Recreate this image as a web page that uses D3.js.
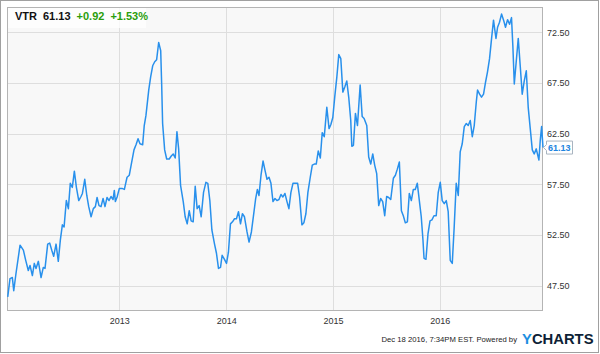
<!DOCTYPE html>
<html lang="en">
	<head>
		<meta charset="utf-8">
		<title>VTR price chart</title>
		<script src="https://d3js.org/d3.v7.min.js"></script>
		<style type="text/css">
			body { margin: 0; background: #fff; }
			svg { display: block; font-family: Arial, "Liberation Sans", sans-serif; }
		</style>
	</head>
	<body>
		<script type="text/javascript">
		var years = [
			2011.958, 2011.979, 2012.001, 2012.014, 2012.035, 2012.073, 2012.104, 2012.126, 2012.150, 2012.166,
			2012.188, 2012.206, 2012.222, 2012.244, 2012.269, 2012.290, 2012.306, 2012.331, 2012.350, 2012.369,
			2012.387, 2012.409, 2012.430, 2012.449, 2012.468, 2012.484, 2012.505, 2012.524, 2012.542, 2012.561,
			2012.580, 2012.599, 2012.621, 2012.642, 2012.655, 2012.677, 2012.696, 2012.714, 2012.736, 2012.757,
			2012.776, 2012.792, 2012.810, 2012.829, 2012.848, 2012.866, 2012.885, 2012.904, 2012.922, 2012.941,
			2012.953, 2012.963, 2012.979, 2013.000, 2013.025, 2013.047, 2013.072, 2013.093, 2013.112, 2013.137,
			2013.156, 2013.175, 2013.193, 2013.218, 2013.233, 2013.249, 2013.275, 2013.293, 2013.312, 2013.331,
			2013.349, 2013.368, 2013.387, 2013.396, 2013.405, 2013.424, 2013.443, 2013.467, 2013.486, 2013.504,
			2013.523, 2013.539, 2013.555, 2013.573, 2013.598, 2013.616, 2013.635, 2013.654, 2013.672, 2013.691,
			2013.710, 2013.728, 2013.747, 2013.766, 2013.788, 2013.810, 2013.828, 2013.847, 2013.866, 2013.891,
			2013.909, 2013.928, 2013.947, 2013.962, 2013.984, 2014.003, 2014.021, 2014.040, 2014.059, 2014.078,
			2014.096, 2014.115, 2014.134, 2014.152, 2014.171, 2014.195, 2014.214, 2014.236, 2014.258, 2014.276,
			2014.292, 2014.307, 2014.326, 2014.345, 2014.363, 2014.382, 2014.401, 2014.419, 2014.438, 2014.457,
			2014.475, 2014.494, 2014.513, 2014.531, 2014.550, 2014.569, 2014.587, 2014.606, 2014.625, 2014.650,
			2014.669, 2014.687, 2014.709, 2014.727, 2014.746, 2014.765, 2014.787, 2014.806, 2014.825, 2014.843,
			2014.862, 2014.881, 2014.899, 2014.918, 2014.942, 2014.963, 2014.980, 2014.998, 2015.017, 2015.036,
			2015.054, 2015.073, 2015.092, 2015.110, 2015.129, 2015.148, 2015.166, 2015.176, 2015.191, 2015.210,
			2015.229, 2015.254, 2015.273, 2015.291, 2015.316, 2015.334, 2015.353, 2015.372, 2015.390, 2015.409,
			2015.428, 2015.446, 2015.465, 2015.484, 2015.502, 2015.521, 2015.540, 2015.565, 2015.584, 2015.602,
			2015.621, 2015.640, 2015.658, 2015.677, 2015.696, 2015.714, 2015.733, 2015.752, 2015.770, 2015.789,
			2015.808, 2015.826, 2015.842, 2015.852, 2015.870, 2015.889, 2015.908, 2015.926, 2015.945, 2015.966,
			2015.985, 2016.004, 2016.022, 2016.041, 2016.060, 2016.078, 2016.097, 2016.116, 2016.134, 2016.153,
			2016.172, 2016.190, 2016.209, 2016.228, 2016.247, 2016.265, 2016.284, 2016.303, 2016.321, 2016.340,
			2016.352, 2016.371, 2016.389, 2016.408, 2016.427, 2016.445, 2016.464, 2016.483, 2016.501, 2016.524,
			2016.539, 2016.557, 2016.576, 2016.595, 2016.613, 2016.632, 2016.651, 2016.669, 2016.682, 2016.695,
			2016.713, 2016.732, 2016.751, 2016.769, 2016.788, 2016.807, 2016.825, 2016.844, 2016.863, 2016.881,
			2016.900, 2016.925, 2016.937, 2016.950, 2016.963
		];
		var prices = [
			46.4, 48.2, 48.3, 47.0, 48.7, 51.5, 51.0, 50.0, 49.0, 49.5,
			48.5, 49.7, 49.2, 49.9, 48.3, 49.3, 49.2, 51.6, 51.7, 51.0,
			50.4, 51.6, 49.9, 52.0, 53.5, 53.3, 55.9, 55.1, 57.6, 57.2,
			58.8, 57.2, 55.9, 56.3, 56.6, 58.0, 56.4, 55.3, 54.3, 55.1,
			55.3, 56.2, 55.4, 55.3, 56.1, 55.3, 56.2, 55.9, 56.3, 56.0,
			56.9, 55.8, 56.25, 57.1, 57.1, 57.0, 58.2, 58.4, 59.5, 60.9,
			61.4, 62.0, 61.5, 61.4, 63.3, 64.3, 66.8, 68.1, 69.2, 69.6,
			69.8, 71.5, 70.7, 67.4, 63.5, 60.9, 60.0, 60.0, 60.3, 60.5,
			60.1, 62.7, 61.0, 57.4, 55.8, 54.3, 53.6, 54.9, 53.9, 53.8,
			57.3, 55.1, 55.4, 54.3, 56.7, 57.7, 57.6, 55.9, 53.0, 51.6,
			50.7, 49.2, 49.3, 50.5, 50.1, 49.7, 50.8, 53.6, 53.8, 54.1,
			54.1, 54.8, 53.6, 54.6, 54.3, 52.8, 51.8, 52.8, 54.6, 56.1,
			57.0, 56.4, 58.4, 59.8, 58.9, 58.0, 58.2, 57.6, 55.8, 56.1,
			55.9, 56.0, 56.5, 56.25, 56.6, 55.8, 55.1, 56.7, 57.6, 57.6,
			57.6, 56.25, 53.5, 53.7, 54.6, 56.7, 58.2, 59.4, 59.5, 59.5,
			60.8, 60.1, 62.6, 62.2, 65.1, 63.0, 63.4, 64.1, 66.2, 68.1,
			70.3, 69.9, 66.6, 67.1, 67.7, 66.0, 63.8, 61.25, 61.35, 64.5,
			63.3, 67.3, 64.2, 64.0, 63.3, 60.2, 59.5, 60.5, 59.4, 58.55,
			55.4, 56.1, 55.8, 54.4, 56.3, 56.2, 56.0, 58.1, 58.4, 59.0,
			59.7, 54.9, 54.4, 53.7, 53.8, 56.6, 55.9, 57.0, 57.0, 57.6,
			55.9, 54.3, 52.0, 50.2, 50.1, 52.6, 53.9, 54.0, 54.4, 54.4,
			56.7, 57.7, 55.9, 55.6, 55.9, 54.8, 50.0, 49.7, 53.3, 57.6,
			56.4, 60.7, 61.5, 63.2, 63.5, 63.3, 63.8, 62.2, 63.3, 65.6,
			66.8, 66.4, 66.1, 66.4, 67.6, 68.6, 69.9, 71.9, 73.7, 71.9,
			73.0, 73.5, 74.3, 73.7, 73.0, 73.75, 73.3, 73.95, 71.05, 67.4,
			69.6, 71.9, 69.1, 66.4, 67.7, 68.7, 65.1, 63.0, 60.9, 60.5,
			61.0, 59.9, 61.8, 63.2, 61.13
		];
		var yTicks = [47.5, 52.5, 57.5, 62.5, 67.5, 72.5];
		var xTicks = [2013, 2014, 2015, 2016];
		var header = ["VTR", "61.13", "+0.92", "+1.53%"];
		var headerColors = ["#111", "#111", "#2a9d0c", "#2a9d0c"];
		var footer = "Dec 18 2016, 7:34PM EST.  Powered by";

		var W = 600, H = 354;
		var plot = {left: 7, top: 7, right: 543, bottom: 311};

		function toDate(t){
			var y = Math.floor(t);
			var s = new Date(y, 0, 1), e = new Date(y + 1, 0, 1);
			return new Date(+s + (t - y) * (e - s));
		}

		var data = years.map(function(t, i){ return {date: toDate(t), price: prices[i]}; });

		var x = d3.scaleTime()
			.domain([toDate(2011.951), toDate(2016.963)])
			.range([plot.left, plot.right]);
		var y = d3.scaleLinear()
			.domain([45, 75])
			.range([plot.bottom, plot.top]);

		var svg = d3.select("body").append("svg")
			.attr("width", W)
			.attr("height", H);

		svg.append("rect")
			.attr("x", 0.5).attr("y", 0.5)
			.attr("width", W - 2).attr("height", H - 2)
			.attr("fill", "#fff").attr("stroke", "#a0a0a0");

		// plot background
		svg.append("rect")
			.attr("x", plot.left).attr("y", plot.top)
			.attr("width", plot.right - plot.left).attr("height", plot.bottom - plot.top)
			.attr("fill", "#f8f8f8");

		// gridlines
		svg.selectAll("line.hgrid")
			.data(yTicks)
			.enter()
			.append("line")
			.attr("x1", plot.left).attr("x2", plot.right)
			.attr("y1", function(d){ return Math.round(y(d)) + 0.5; })
			.attr("y2", function(d){ return Math.round(y(d)) + 0.5; })
			.attr("stroke", "#dedede");

		svg.selectAll("line.vgrid")
			.data(xTicks)
			.enter()
			.append("line")
			.attr("x1", function(d){ return Math.round(x(new Date(d, 0, 1))) + 0.5; })
			.attr("x2", function(d){ return Math.round(x(new Date(d, 0, 1))) + 0.5; })
			.attr("y1", plot.top).attr("y2", plot.bottom)
			.attr("stroke", "#dedede");

		svg.append("rect")
			.attr("x", plot.left + 0.5).attr("y", plot.top + 0.5)
			.attr("width", plot.right - plot.left - 1).attr("height", plot.bottom - plot.top - 1)
			.attr("fill", "none").attr("stroke", "#b4b4b4");

		// axes
		var yAxis = svg.append("g")
			.attr("transform", "translate(" + plot.right + ",0)")
			.call(d3.axisRight(y).tickValues(yTicks).tickSize(0).tickPadding(4).tickFormat(d3.format(".2f")));
		var xAxis = svg.append("g")
			.attr("transform", "translate(0," + plot.bottom + ")")
			.call(d3.axisBottom(x).tickValues(xTicks.map(function(d){ return new Date(d, 0, 1); }))
				.tickSize(0).tickPadding(7).tickFormat(d3.timeFormat("%Y")));
		[yAxis, xAxis].forEach(function(a){
			a.select(".domain").remove();
			a.selectAll("text")
				.attr("fill", "#333")
				.style("font-size", "9px")
				.style("font-family", "Arial, 'Liberation Sans', sans-serif");
		});

		// price line
		var line = d3.line()
			.x(function(d){ return x(d.date); })
			.y(function(d){ return y(d.price); });

		svg.append("path")
			.datum(data)
			.attr("d", line)
			.attr("fill", "none")
			.attr("stroke", "#2890ec")
			.attr("stroke-width", 1.5)
			.attr("stroke-linejoin", "round");

		// last price tag
		var last = data[data.length - 1];
		var ly = y(last.price);
		svg.append("path")
			.attr("d", "M" + (plot.right + 0.5) + "," + ly +
				"L" + (plot.right + 3.5) + "," + (ly - 3) +
				"V" + (ly - 6.5) + "H572.5V" + (ly + 6.5) + "H" + (plot.right + 3.5) + "V" + (ly + 3) + "Z")
			.attr("fill", "#fff")
			.attr("stroke", "#a8b4c0");
		svg.append("text")
			.attr("x", plot.right + 5)
			.attr("y", ly + 3.3)
			.attr("fill", "#2184e0")
			.style("font-size", "9px")
			.style("font-weight", "bold")
			.text(d3.format(".2f")(last.price));

		// header
		svg.append("rect")
			.attr("x", plot.left + 1).attr("y", plot.top + 1)
			.attr("width", 138).attr("height", 20)
			.attr("fill", "#fff").attr("opacity", 0.75);
		var hx = 15;
		header.forEach(function(s, i){
			var t = svg.append("text")
				.attr("x", hx)
				.attr("y", 20)
				.attr("fill", headerColors[i])
				.style("font-size", "11px")
				.style("font-weight", "bold")
				.text(s);
			hx += t.node().getComputedTextLength() + 6;
		});

		// footer
		svg.append("text")
			.attr("x", 517)
			.attr("y", 342)
			.attr("text-anchor", "end")
			.attr("fill", "#222")
			.style("font-size", "7.7px")
			.text(footer);

		var logo = svg.append("text")
			.attr("x", 522)
			.attr("y", 344)
			.style("font-size", "14.8px")
			.style("font-weight", "bold");
		logo.append("tspan").attr("fill", "#1d8fe1").text("Y");
		logo.append("tspan").attr("fill", "#0e1f36").text("CHARTS");
		</script>
	</body>
</html>
